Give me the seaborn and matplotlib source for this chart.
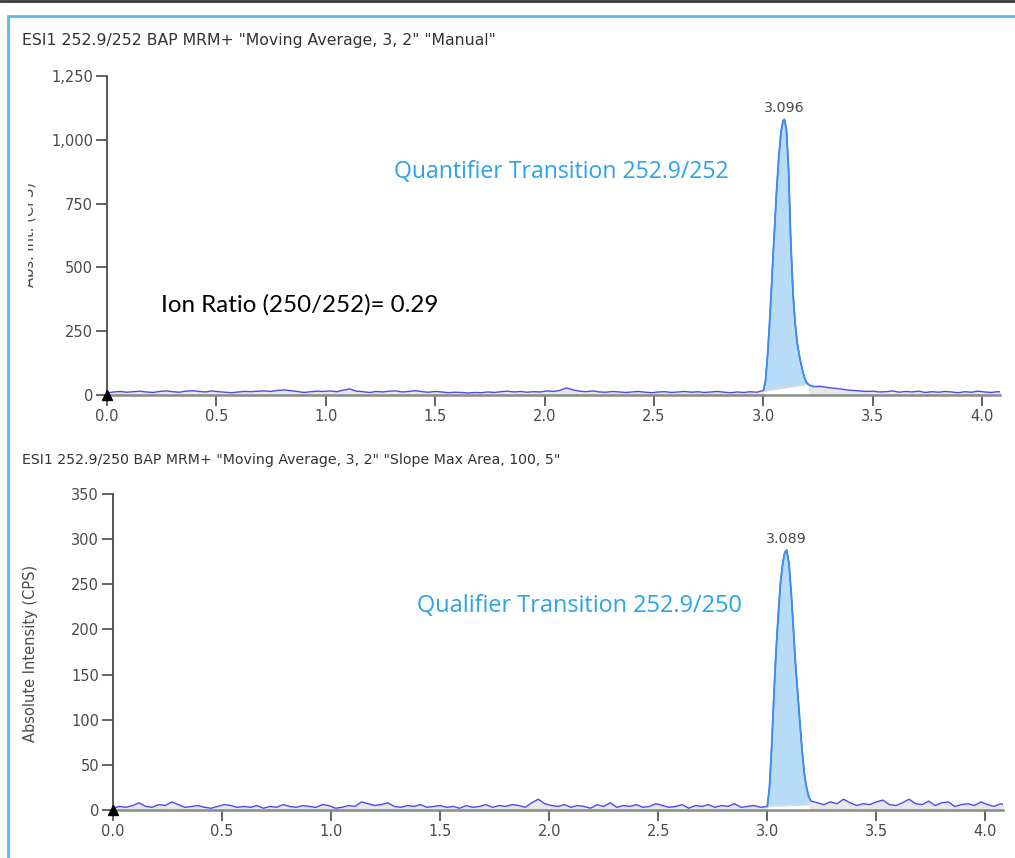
import numpy as np
import pandas as pd
import seaborn as sns
import matplotlib.pyplot as plt
from matplotlib.lines import Line2D
from matplotlib.transforms import Bbox, TransformedBbox

# sampling interval of the baseline traces (min)
STEP = 0.03

# quantifier 252.9/252 : baseline 0.00 - 2.97 min
quant_base = [8, 12, 14, 11, 13, 15, 12, 10, 14, 16,
              13, 11, 15, 17, 14, 12, 16, 13, 11, 9,
              12, 14, 13, 15, 16, 14, 18, 20, 17, 14,
              10, 13, 15, 14, 16, 13, 19, 24, 15, 13,
              10, 14, 12, 15, 16, 12, 14, 17, 13, 11,
              14, 12, 9, 11, 10, 8, 10, 9, 12, 10,
              13, 15, 12, 14, 11, 13, 12, 16, 14, 18,
              28, 20, 15, 13, 16, 12, 11, 14, 12, 10,
              12, 14, 11, 9, 12, 13, 10, 12, 14, 11,
              13, 10, 12, 14, 11, 9, 12, 10, 13, 11]
quant_peak_rt = [3.000, 3.010, 3.020, 3.030, 3.040, 3.050, 3.060, 3.070, 3.080, 3.090,
                 3.096, 3.105, 3.115, 3.125, 3.135, 3.145, 3.155, 3.165, 3.175, 3.185,
                 3.195, 3.205, 3.215, 3.230]
quant_peak = [18, 60, 170, 310, 480, 640, 800, 930, 1030, 1075,
              1080, 1040, 880, 600, 400, 280, 200, 150, 110, 75,
              52, 42, 37, 33]
# tail 3.26 - 4.10 min
quant_tail = [34, 30, 27, 24, 20, 18, 16, 14, 15, 12, 13, 16, 11, 14, 12,
              15, 10, 13, 11, 14, 12, 9, 13, 11, 15, 12, 10, 13, 12]
quant_apex = (3.096, 1080)
quant_int_base = ([3.0, 3.205], [15, 42])

# qualifier 252.9/250
qual_base = [2, 4, 3, 5, 8, 4, 3, 6, 5, 9,
             6, 3, 4, 5, 3, 2, 4, 6, 5, 3,
             4, 3, 5, 2, 4, 3, 6, 4, 3, 5,
             4, 3, 6, 5, 2, 3, 5, 4, 9, 7,
             5, 6, 8, 4, 3, 5, 4, 6, 3, 4,
             5, 3, 4, 2, 5, 3, 4, 6, 3, 5,
             4, 6, 5, 3, 8, 12, 7, 5, 4, 6,
             3, 5, 4, 2, 6, 4, 8, 3, 5, 4,
             6, 3, 4, 7, 5, 3, 4, 6, 2, 5,
             4, 6, 3, 5, 4, 7, 3, 4, 5, 3]
qual_peak_rt = [3.000, 3.010, 3.020, 3.030, 3.040, 3.050, 3.060, 3.070, 3.080, 3.089,
                3.100, 3.110, 3.120, 3.130, 3.140, 3.150, 3.160, 3.170, 3.180, 3.190,
                3.200]
qual_peak = [4, 25, 70, 125, 175, 215, 250, 272, 285, 288,
             272, 240, 200, 160, 128, 95, 65, 40, 25, 15, 10]
# tail 3.23 - 4.10 min
qual_tail = [8, 6, 9, 7, 12, 8, 5, 7, 6, 9, 11, 6, 5, 8, 12,
             7, 6, 10, 5, 8, 9, 4, 6, 7, 5, 9, 6, 4, 7, 5]
qual_apex = (3.089, 288)
qual_int_base = ([3.0, 3.19], [4, 6])

x_ticks = [0.0, 0.5, 1.0, 1.5, 2.0, 2.5, 3.0, 3.5, 4.0]
quant_yticks = [0, 250, 500, 750, 1000, 1250]
qual_yticks = [0, 50, 100, 150, 200, 250, 300, 350]

TRACE = "#4a4af5"
PEAK = "#3d8ef0"
PEAK_FILL = "#b8dbf8"
AXIS = "#4a4a4a"
TXT = "#4a4a4a"
LABEL_BLUE = "#2aa3e8"

sns.set_style("white")
plt.rcParams["font.family"] = ["DejaVu Sans"]


def build_trace(base, peak_rt, peak, tail, tail_start):
    rt_base = np.arange(len(base)) * STEP
    rt_tail = tail_start + np.arange(len(tail)) * STEP
    df = pd.DataFrame({
        "rt": np.concatenate([rt_base, peak_rt, rt_tail]),
        "cps": np.concatenate([base, peak, tail]),
    })
    return df


def draw_panel(ax, df, peak_rt, peak, int_base, apex, yticks, ymax):
    # faint grey area under the trace
    ax.fill_between(df["rt"], 0, df["cps"], color="#e8e8e8", lw=0, zorder=1)
    sns.lineplot(data=df, x="rt", y="cps", ax=ax, color=TRACE, lw=1.0,
                 sort=False, estimator=None, zorder=3)
    # integrated peak
    pr = np.array(peak_rt)
    pv = np.array(peak)
    mask = pr <= int_base[0][1]
    bl = np.interp(pr[mask], int_base[0], int_base[1])
    ax.fill_between(pr[mask], bl, pv[mask], color=PEAK_FILL, lw=0, zorder=2)
    ax.fill_between(pr[mask], 0, bl, color="white", lw=0, zorder=2)
    ax.plot(int_base[0], int_base[1], color="#dcdcdc", lw=1.0, zorder=2)
    sns.lineplot(x=pr, y=pv, ax=ax, color=PEAK, lw=1.3, sort=False,
                 estimator=None, zorder=4)
    ax.annotate(f"{apex[0]:.3f}", xy=apex, xytext=(0, 3), textcoords="offset points",
                ha="center", va="bottom", fontsize=10.3, color=TXT)
    # origin marker
    ax.plot([0], [0], marker="^", color="black", ms=7, clip_on=False, zorder=6)

    ax.set_xlim(0, 4.08)
    ax.set_ylim(0, ymax)
    ax.set_xticks(x_ticks)
    ax.set_xticklabels([f"{t:.1f}" for t in x_ticks])
    ax.set_yticks(yticks)
    ax.set_yticklabels([f"{v:,}" for v in yticks])
    ax.set_xlabel("")
    ax.set_ylabel("")
    sns.despine(ax=ax)
    ax.spines["left"].set_color(AXIS)
    ax.spines["left"].set_linewidth(1.3)
    ax.spines["bottom"].set_color("#8a8a8a")
    ax.spines["bottom"].set_linewidth(1.8)
    ax.tick_params(axis="both", direction="out", length=8, width=1.2,
                   bottom=True, left=True, color=AXIS, labelsize=10.5,
                   labelcolor=TXT, pad=2)
    ax.set_facecolor("white")


fig = plt.figure(figsize=(10.15, 8.58), dpi=100)
ax_top = fig.add_axes([0.1054, 0.5396, 0.8796, 0.3718])
ax_bot = fig.add_axes([0.1113, 0.0559, 0.8767, 0.3683])

quant = build_trace(quant_base, quant_peak_rt, quant_peak, quant_tail, 3.26)
qual = build_trace(qual_base, qual_peak_rt, qual_peak, qual_tail, 3.23)

draw_panel(ax_top, quant, quant_peak_rt, quant_peak, quant_int_base, quant_apex,
           quant_yticks, 1250)
draw_panel(ax_bot, qual, qual_peak_rt, qual_peak, qual_int_base, qual_apex,
           qual_yticks, 350)

# annotations
ax_top.text(1.31, 874, "Quantifier Transition 252.9/252", color=LABEL_BLUE,
            fontsize=16.6, va="center", ha="left", family=["Open Sans", "DejaVu Sans"])
ax_top.text(0.245, 355, "Ion Ratio (250/252)= 0.29", color="black",
            fontsize=17.4, va="center", ha="left", family=["Lato", "DejaVu Sans"])
ax_bot.text(1.393, 226, "Qualifier Transition 252.9/250", color=LABEL_BLUE,
            fontsize=16.9, va="center", ha="left", family=["Open Sans", "DejaVu Sans"])

# panel headers
fig.text(22 / 1015, 1 - 40 / 858,
         'ESI1 252.9/252 BAP MRM+ "Moving Average, 3, 2" "Manual"',
         fontsize=11.3, color="#333333", va="center", ha="left")
fig.text(22 / 1015, 1 - 460 / 858,
         'ESI1 252.9/250 BAP MRM+ "Moving Average, 3, 2" "Slope Max Area, 100, 5"',
         fontsize=10.2, color="#333333", va="center", ha="left")

# y labels (top one is partly hidden in the original)
fig.text(31 / 1015, 1 - 653 / 858, "Absolute Intensity (CPS)", rotation=90,
         fontsize=10.5, color=TXT, va="center", ha="center")
hidden = fig.text(28.5 / 1015, 1 - 235 / 858, "Abs. Int. (CPS)", rotation=90,
                  fontsize=10.5, color=TXT, va="center", ha="center")
hidden.set_clip_on(True)
hidden.set_clip_box(TransformedBbox(Bbox([[28 / 1015, 0], [1, 1]]), fig.transFigure))

# window frame
fig.add_artist(Line2D([0, 1], [1 - 1 / 858, 1 - 1 / 858], color="#3a3a3a", lw=2,
                      transform=fig.transFigure))
fig.add_artist(Line2D([8 / 1015, 1], [1 - 16 / 858, 1 - 16 / 858], color="#5bb8f0",
                      lw=2, transform=fig.transFigure))
fig.add_artist(Line2D([8 / 1015, 8 / 1015], [0, 1 - 16 / 858], color="#5bb8f0",
                      lw=2, transform=fig.transFigure))

fig.savefig("out.png", dpi=100, facecolor="white")
